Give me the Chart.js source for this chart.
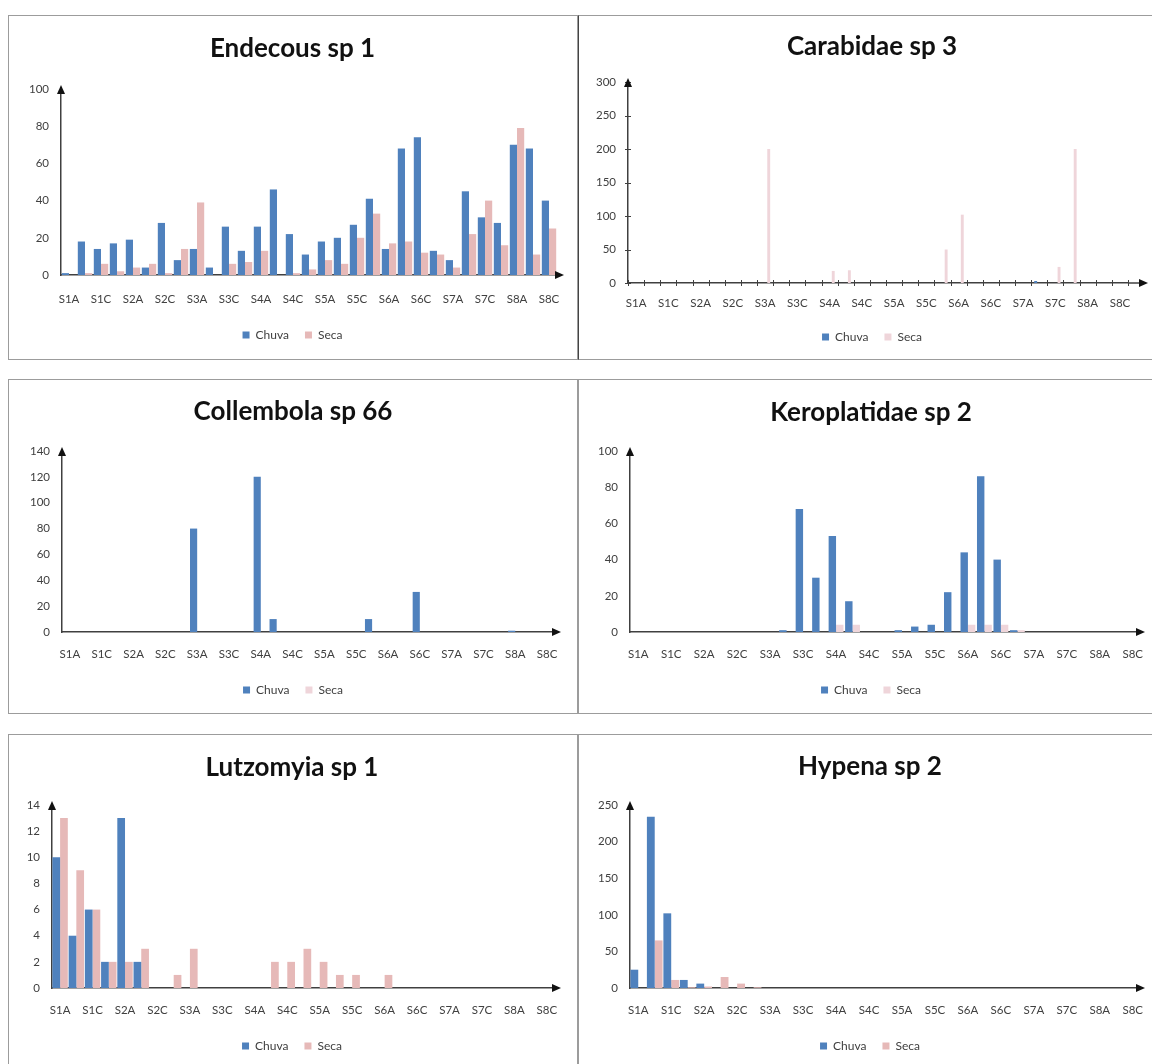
<!DOCTYPE html>
<html>
<head>
<meta charset="utf-8">
<script src="https://cdn.jsdelivr.net/npm/chart.js@4.4.1/dist/chart.umd.min.js"></script>
<style>
  html, body { margin: 0; padding: 0; background: #fff; }
  body { width: 1152px; height: 1064px; position: relative; overflow: hidden; }
  .panel { position: absolute; border: 1px solid #9c9c9c; box-sizing: border-box; overflow: hidden; background: #fff; }
  .panel canvas { position: absolute; left: 0; top: 0; }
</style>
</head>
<body>
<div class="panel" id="p1" style="left:8px;top:15px;width:570px;height:345px"><canvas id="c1"></canvas></div>
<div class="panel" id="p2" style="left:578px;top:15px;width:600px;height:345px;border-left-color:#444"><canvas id="c2"></canvas></div>
<div class="panel" id="p3" style="left:8px;top:379px;width:570px;height:335px"><canvas id="c3"></canvas></div>
<div class="panel" id="p4" style="left:578px;top:379px;width:600px;height:335px"><canvas id="c4"></canvas></div>
<div class="panel" id="p5" style="left:8px;top:734px;width:570px;height:340px"><canvas id="c5"></canvas></div>
<div class="panel" id="p6" style="left:578px;top:734px;width:600px;height:340px"><canvas id="c6"></canvas></div>
<script>
// sampling points (only every other one gets a tick label)
const categories = ['S1A','S1B','S1C','S1D','S2A','S2B','S2C','S2D','S3A','S3B','S3C','S3D',
  'S4A','S4B','S4C','S4D','S5A','S5B','S5C','S5D','S6A','S6B','S6C','S6D',
  'S7A','S7B','S7C','S7D','S8A','S8B','S8C'];

const endecousChuva = [1,18,14,17,19,4,28,8,14,4,26,13,26,46,22,11,18,20,27,41,14,68,74,13,8,45,31,28,70,68,40];
const endecousSeca  = [0,1,6,2,4,6,1,14,39,0,6,7,13,0,1,3,8,6,20,33,17,18,12,11,4,22,40,16,79,11,25];

const carabidaeChuva = [0,0,0,0,0,0,0,0,0,0,0,0,0,0,0,0,0,0,0,0,0,0,0,0,0,3,0,0,0,0,0];
const carabidaeSeca  = [0,0,0,0,0,0,0,0,200,0,0,0,18,19,0,0,0,0,0,50,102,0,0,0,0,0,24,200,0,0,0];

const collembolaChuva = [0,0,0,0,0,0,0,0,80,0,0,0,120,10,0,0,0,0,0,10,0,0,31,0,0,0,0,0,1,0,0];
const collembolaSeca  = [0,0,0,0,0,0,0,0,0,0,0,0,0,0,0,0,0,0,0,0,0,0,0,0,0,0,0,0,0,0,0];

const keroplatidaeChuva = [0,0,0,0,0,0,0,0,0,1,68,30,53,17,0,0,1,3,4,22,44,86,40,1,0,0,0,0,0,0,0];
const keroplatidaeSeca  = [0,0,0,0,0,0,0,0,0,0,0,0,4,4,0,0,0,0,0,0,4,4,4,1,0,0,0,0,0,0,0];

const lutzomyiaChuva = [10,4,6,2,13,2,0,0,0,0,0,0,0,0,0,0,0,0,0,0,0,0,0,0,0,0,0,0,0,0,0];
const lutzomyiaSeca  = [13,9,6,2,2,3,0,1,3,0,0,0,0,2,2,3,2,1,1,0,1,0,0,0,0,0,0,0,0,0,0];

const hypenaChuva = [25,234,102,11,6,0,0,0,0,0,0,0,0,0,0,0,0,0,0,0,0,0,0,0,0,0,0,0,0,0,0];
const hypenaSeca  = [0,65,11,1,2,15,6,1,0,0,0,0,0,0,0,0,0,0,0,0,0,0,0,0,0,0,0,0,0,0,0];

const CHUVA = '#4f81bd';
const SECA = '#e6b9b8';
const SECA_PALE = '#efd5da';

Chart.defaults.font.family = "Lato, 'DejaVu Sans', sans-serif";
Chart.defaults.color = '#404040';

// arrow heads at the ends of both axes (+ optional cross tick marks)
const axisArrows = {
  id: 'axisArrows',
  afterDraw(chart, args, opts) {
    const {ctx, chartArea: {left, top, right, bottom}} = chart;
    const ext = opts.ext || 0;
    ctx.save();
    ctx.strokeStyle = '#404040';
    ctx.fillStyle = '#111';
    ctx.lineWidth = 1.5;
    if (ext > 0) {
      ctx.beginPath();
      ctx.moveTo(right, bottom);
      ctx.lineTo(right + ext, bottom);
      ctx.stroke();
    }
    if (opts.crossTicks) {
      ctx.lineWidth = 1;
      const xs = chart.scales.x, ys = chart.scales.y;
      const w = (xs.right - xs.left) / categories.length;
      ctx.beginPath();
      for (let i = 0; i <= categories.length; i++) {
        const x = Math.round(xs.left + i * w) + 0.5;
        ctx.moveTo(x, bottom - 3);
        ctx.lineTo(x, bottom + 3);
      }
      ys.ticks.forEach(t => {
        const y = Math.round(ys.getPixelForValue(t.value)) + 0.5;
        ctx.moveTo(left - 3, y);
        ctx.lineTo(left + 3, y);
      });
      ctx.stroke();
    }
    ctx.beginPath();
    ctx.moveTo(right + ext + 4, bottom);
    ctx.lineTo(right + ext - 5, bottom - 4);
    ctx.lineTo(right + ext - 5, bottom + 4);
    ctx.closePath();
    ctx.fill();
    ctx.beginPath();
    ctx.moveTo(left, top - 4);
    ctx.lineTo(left - 4, top + 5);
    ctx.lineTo(left + 4, top + 5);
    ctx.closePath();
    ctx.fill();
    ctx.restore();
  }
};

function makeChart(canvasId, title, chuva, seca, cfg) {
  const canvas = document.getElementById(canvasId);
  const panel = canvas.parentElement;
  const W = panel.clientWidth, H = panel.clientHeight;
  canvas.width = W; canvas.height = H;
  canvas.style.width = W + 'px'; canvas.style.height = H + 'px';

  const titleSize = 26, labelSize = 11.5, legendSize = 12, legendPad = 16;
  // a blank box on the right lets the y axis be wide enough while the title stays centred where it is
  const yW0 = cfg.left - (2 * cfg.titleX - cfg.right);
  const R = Math.max(0, 40 - yW0);
  const padL = 2 * cfg.titleX - cfg.right - R;
  const yW = cfg.left - padL;
  const padR = W - cfg.right - R;
  const padB = H - (legendSize / 2 + 10) - cfg.legend;
  const xH = (cfg.legend - legendSize / 2 - legendPad) - cfg.bottom;

  return new Chart(canvas.getContext('2d'), {
    type: 'bar',
    data: {
      labels: categories,
      datasets: [
        { label: 'Chuva', data: chuva, backgroundColor: CHUVA, borderWidth: 0 },
        { label: 'Seca', data: seca, backgroundColor: cfg.secaColor || SECA, borderWidth: 0 }
      ]
    },
    options: {
      responsive: false,
      animation: false,
      devicePixelRatio: 1,
      categoryPercentage: cfg.catPct || 0.9,
      barPercentage: cfg.barPct || 1.0,
      layout: { padding: { top: 0, left: padL, right: padR, bottom: padB } },
      scales: {
        x: {
          offset: true,
          grid: { display: false, drawTicks: false },
          border: { display: true, color: '#404040', width: 1.5 },
          ticks: {
            autoSkip: false, maxRotation: 0, minRotation: 0,
            font: { size: labelSize }, color: '#404040',
            padding: cfg.xlab - cfg.bottom - labelSize * 0.6,
            callback: (v, i) => (i % 2 === 0 ? categories[i] : '')
          },
          afterFit: s => { s.height = xH; }
        },
        y: {
          min: 0, max: cfg.max,
          grid: { display: false, drawTicks: false },
          border: { display: true, color: '#404040', width: 1.5 },
          ticks: { stepSize: cfg.step, font: { size: labelSize }, color: '#404040', padding: 12 },
          afterFit: s => { s.width = yW; }
        },
        pad: {
          position: 'right', display: true,
          grid: { display: false, drawTicks: false },
          border: { display: false },
          ticks: { display: false },
          afterFit: s => { s.width = R; }
        }
      },
      plugins: {
        title: {
          display: true, text: title, color: '#111',
          font: { size: titleSize, weight: 'bold' },
          padding: { top: cfg.title - titleSize * 0.6, bottom: cfg.top - cfg.title - titleSize * 0.6 }
        },
        legend: {
          position: 'bottom',
          labels: { boxWidth: 7, boxHeight: 7, padding: legendPad, font: { size: legendSize }, color: '#404040' }
        },
        tooltip: { enabled: false },
        axisArrows: { ext: cfg.ext, crossTicks: !!cfg.ticks }
      }
    },
    plugins: [axisArrows]
  });
}

makeChart('c1', 'Endecous sp 1', endecousChuva, endecousSeca,
  { max: 100, step: 20, left: 52, right: 548, top: 73, bottom: 259, title: 33, titleX: 283.5, xlab: 283, legend: 319, ext: 3 });
makeChart('c2', 'Carabidae sp 3', carabidaeChuva, carabidaeSeca,
  { max: 300, step: 50, left: 49, right: 549, top: 66, bottom: 267, title: 31, titleX: 293, xlab: 287, legend: 321, ext: 16,
    ticks: true, barPct: 0.4, secaColor: SECA_PALE });
makeChart('c3', 'Collembola sp 66', collembolaChuva, collembolaSeca,
  { max: 140, step: 20, left: 53, right: 546, top: 71, bottom: 252, title: 32, titleX: 284, xlab: 274, legend: 310, ext: 2,
    secaColor: SECA_PALE });
makeChart('c4', 'Keroplatidae sp 2', keroplatidaeChuva, keroplatidaeSeca,
  { max: 100, step: 20, left: 51, right: 562, top: 71, bottom: 252, title: 33, titleX: 292, xlab: 274, legend: 310, ext: 0,
    secaColor: SECA_PALE });
makeChart('c5', 'Lutzomyia sp 1', lutzomyiaChuva, lutzomyiaSeca,
  { max: 14, step: 2, left: 43, right: 546, top: 70, bottom: 253, title: 33, titleX: 283, xlab: 275, legend: 311, ext: 2, catPct: 0.95 });
makeChart('c6', 'Hypena sp 2', hypenaChuva, hypenaSeca,
  { max: 250, step: 50, left: 51, right: 562, top: 70, bottom: 253, title: 32, titleX: 291, xlab: 275, legend: 311, ext: 0, catPct: 0.95 });
</script>
</body>
</html>
